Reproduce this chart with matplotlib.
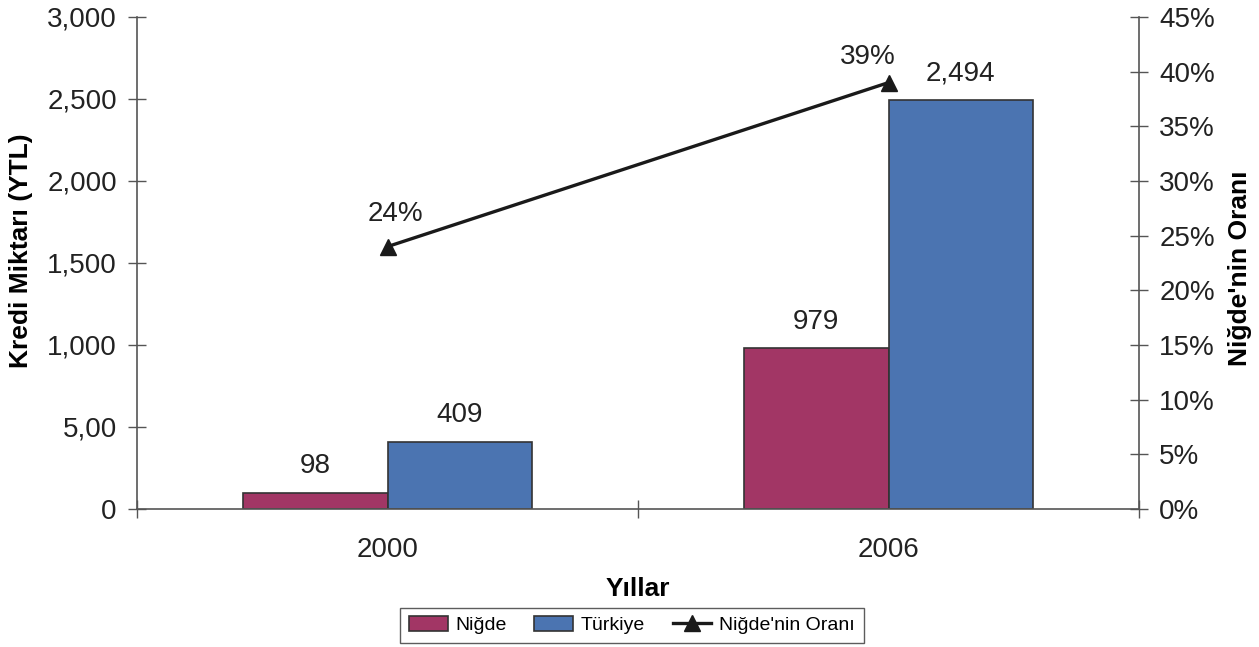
import numpy as np
import matplotlib
matplotlib.use("Agg")
import matplotlib.pyplot as plt
from matplotlib.ticker import FuncFormatter

# data
years = ["2000", "2006"]
nigde = [98, 979]
turkiye = [409, 2494]
ratio = [0.24, 0.39]
nigde_labels = ["98", "979"]
turkiye_labels = ["409", "2,494"]
ratio_labels = ["24%", "39%"]
left_ticks = [0, 500, 1000, 1500, 2000, 2500, 3000]
left_ticklabels = ["0", "5,00", "1,000", "1,500", "2,000", "2,500", "3,000"]

FONT = ["Liberation Sans", "DejaVu Sans"]
plt.rcParams["font.family"] = FONT

c_nigde = "#a23665"
c_turk = "#4b74b1"
edge = "#333333"
spine_c = "#555555"

fig = plt.figure(figsize=(12.59, 6.47), dpi=100)
ax = fig.add_axes([137 / 1259, 1 - 509 / 647, 1002 / 1259, 492 / 647])

x = np.arange(len(years))
w = 0.289
b1 = ax.bar(x - w / 2, nigde, w, color=c_nigde, edgecolor=edge, linewidth=1.2, label="Niğde")
b2 = ax.bar(x + w / 2, turkiye, w, color=c_turk, edgecolor=edge, linewidth=1.2, label="Türkiye")

# value labels above the bars
for bars, labels in [(b1, nigde_labels), (b2, turkiye_labels)]:
    for rect, lab in zip(bars, labels):
        ax.annotate(lab, (rect.get_x() + rect.get_width() / 2, rect.get_height()),
                    xytext=(0, 10), textcoords="offset points", ha="center", va="bottom",
                    fontsize=20, color="#222222")

ax.set_xlim(-0.5, 1.5)
ax.set_ylim(0, 3000)
ax.set_yticks(left_ticks)
ax.set_yticklabels(left_ticklabels)
ax.set_xticks(x)
ax.set_xticklabels(years)
ax.set_xticks([-0.5, 0.5, 1.5], minor=True)
ax.tick_params(axis="x", which="major", length=0, pad=20, labelsize=20, colors="#222222")
ax.tick_params(axis="x", which="minor", direction="inout", length=13, color=spine_c, width=1)
ax.tick_params(axis="y", direction="inout", length=13, color=spine_c, width=1,
               labelsize=20, labelcolor="#222222", pad=8)
for s in ["top", "right"]:
    ax.spines[s].set_visible(False)
for s in ["left", "bottom"]:
    ax.spines[s].set_color(spine_c)
    ax.spines[s].set_linewidth(1.2)

ax.set_ylabel("Kredi Miktarı (YTL)", fontsize=19, fontweight="bold")
ax.yaxis.set_label_coords(-0.104, 0.526)
ax.set_xlabel("Yıllar", fontsize=19, fontweight="bold")
ax.xaxis.set_label_coords(0.5, -0.138)

# ratio line on the right axis
ax2 = ax.twinx()
ax2.set_ylim(0, 0.45)
ax2.set_yticks(np.arange(0, 0.451, 0.05))
ax2.yaxis.set_major_formatter(FuncFormatter(lambda v, p: f"{v * 100:.0f}%"))
ax2.tick_params(axis="y", direction="inout", length=13, color=spine_c, width=1,
                labelsize=20, labelcolor="#222222", pad=8)
for s in ["top", "left", "bottom"]:
    ax2.spines[s].set_visible(False)
ax2.spines["right"].set_color(spine_c)
ax2.spines["right"].set_linewidth(1.2)
line, = ax2.plot(x, ratio, color="#1a1a1a", linewidth=2.4, marker="^", markersize=11,
                 label="Niğde'nin Oranı")
offsets = [(6, 14), (-15, 9)]
for xi, yi, lab, off in zip(x, ratio, ratio_labels, offsets):
    ax2.annotate(lab, (xi, yi), xytext=off, textcoords="offset points",
                 ha="center", va="bottom", fontsize=20, color="#222222")
ax2.set_ylabel("Niğde'nin Oranı", fontsize=19, fontweight="bold")
ax2.yaxis.set_label_coords(1.089, 0.49)

leg = fig.legend(handles=[b1, b2, line], loc="center", bbox_to_anchor=(0.502, 0.0335),
                 ncol=3, fontsize=14, frameon=True, fancybox=False, handlelength=2.0,
                 handleheight=0.75, columnspacing=1.4, handletextpad=0.4,
                 borderpad=0.45, borderaxespad=0)
leg.get_frame().set_edgecolor("#333333")
leg.get_frame().set_linewidth(1.0)

fig.savefig("out.png", dpi=100)
